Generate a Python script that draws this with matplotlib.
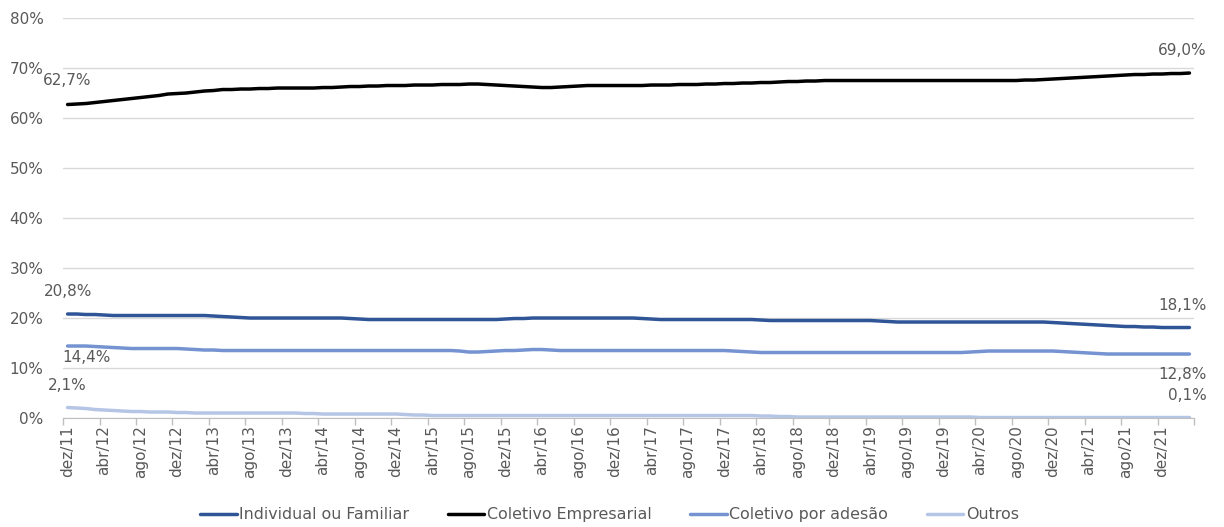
import matplotlib.pyplot as plt
from matplotlib.ticker import FuncFormatter, MultipleLocator, FixedLocator, NullFormatter

# monthly share of beneficiaries by contract type, dez/11 .. mar/22 (%)
ptMonths = ['jan', 'fev', 'mar', 'abr', 'mai', 'jun', 'jul', 'ago', 'set', 'out', 'nov', 'dez']
startYear, startMonth, nMonths = 2011, 12, 124

individual = [
    20.8, 20.8, 20.7, 20.7, 20.6, 20.5, 20.5, 20.5, 20.5, 20.5, 20.5, 20.5,
    20.5, 20.5, 20.5, 20.5, 20.4, 20.3, 20.2, 20.1, 20.0, 20.0, 20.0, 20.0,
    20.0, 20.0, 20.0, 20.0, 20.0, 20.0, 20.0, 19.9, 19.8, 19.7, 19.7, 19.7,
    19.7, 19.7, 19.7, 19.7, 19.7, 19.7, 19.7, 19.7, 19.7, 19.7, 19.7, 19.7,
    19.8, 19.9, 19.9, 20.0, 20.0, 20.0, 20.0, 20.0, 20.0, 20.0, 20.0, 20.0,
    20.0, 20.0, 20.0, 19.9, 19.8, 19.7, 19.7, 19.7, 19.7, 19.7, 19.7, 19.7,
    19.7, 19.7, 19.7, 19.7, 19.6, 19.5, 19.5, 19.5, 19.5, 19.5, 19.5, 19.5,
    19.5, 19.5, 19.5, 19.5, 19.5, 19.4, 19.3, 19.2, 19.2, 19.2, 19.2, 19.2,
    19.2, 19.2, 19.2, 19.2, 19.2, 19.2, 19.2, 19.2, 19.2, 19.2, 19.2, 19.2,
    19.1, 19.0, 18.9, 18.8, 18.7, 18.6, 18.5, 18.4, 18.3, 18.3, 18.2, 18.2,
    18.1, 18.1, 18.1, 18.1,
]
empresarial = [
    62.7, 62.8, 62.9, 63.1, 63.3, 63.5, 63.7, 63.9, 64.1, 64.3, 64.5, 64.8,
    64.9, 65.0, 65.2, 65.4, 65.5, 65.7, 65.7, 65.8, 65.8, 65.9, 65.9, 66.0,
    66.0, 66.0, 66.0, 66.0, 66.1, 66.1, 66.2, 66.3, 66.3, 66.4, 66.4, 66.5,
    66.5, 66.5, 66.6, 66.6, 66.6, 66.7, 66.7, 66.7, 66.8, 66.8, 66.7, 66.6,
    66.5, 66.4, 66.3, 66.2, 66.1, 66.1, 66.2, 66.3, 66.4, 66.5, 66.5, 66.5,
    66.5, 66.5, 66.5, 66.5, 66.6, 66.6, 66.6, 66.7, 66.7, 66.7, 66.8, 66.8,
    66.9, 66.9, 67.0, 67.0, 67.1, 67.1, 67.2, 67.3, 67.3, 67.4, 67.4, 67.5,
    67.5, 67.5, 67.5, 67.5, 67.5, 67.5, 67.5, 67.5, 67.5, 67.5, 67.5, 67.5,
    67.5, 67.5, 67.5, 67.5, 67.5, 67.5, 67.5, 67.5, 67.5, 67.6, 67.6, 67.7,
    67.8, 67.9, 68.0, 68.1, 68.2, 68.3, 68.4, 68.5, 68.6, 68.7, 68.7, 68.8,
    68.8, 68.9, 68.9, 69.0,
]
adesao = [
    14.4, 14.4, 14.4, 14.3, 14.2, 14.1, 14.0, 13.9, 13.9, 13.9, 13.9, 13.9,
    13.9, 13.8, 13.7, 13.6, 13.6, 13.5, 13.5, 13.5, 13.5, 13.5, 13.5, 13.5,
    13.5, 13.5, 13.5, 13.5, 13.5, 13.5, 13.5, 13.5, 13.5, 13.5, 13.5, 13.5,
    13.5, 13.5, 13.5, 13.5, 13.5, 13.5, 13.5, 13.4, 13.2, 13.2, 13.3, 13.4,
    13.5, 13.5, 13.6, 13.7, 13.7, 13.6, 13.5, 13.5, 13.5, 13.5, 13.5, 13.5,
    13.5, 13.5, 13.5, 13.5, 13.5, 13.5, 13.5, 13.5, 13.5, 13.5, 13.5, 13.5,
    13.5, 13.4, 13.3, 13.2, 13.1, 13.1, 13.1, 13.1, 13.1, 13.1, 13.1, 13.1,
    13.1, 13.1, 13.1, 13.1, 13.1, 13.1, 13.1, 13.1, 13.1, 13.1, 13.1, 13.1,
    13.1, 13.1, 13.1, 13.2, 13.3, 13.4, 13.4, 13.4, 13.4, 13.4, 13.4, 13.4,
    13.4, 13.3, 13.2, 13.1, 13.0, 12.9, 12.8, 12.8, 12.8, 12.8, 12.8, 12.8,
    12.8, 12.8, 12.8, 12.8,
]
outros = [
    2.1, 2.0, 1.9, 1.7, 1.6, 1.5, 1.4, 1.3, 1.3, 1.2, 1.2, 1.2,
    1.1, 1.1, 1.0, 1.0, 1.0, 1.0, 1.0, 1.0, 1.0, 1.0, 1.0, 1.0,
    1.0, 1.0, 0.9, 0.9, 0.8, 0.8, 0.8, 0.8, 0.8, 0.8, 0.8, 0.8,
    0.8, 0.7, 0.6, 0.6, 0.5, 0.5, 0.5, 0.5, 0.5, 0.5, 0.5, 0.5,
    0.5, 0.5, 0.5, 0.5, 0.5, 0.5, 0.5, 0.5, 0.5, 0.5, 0.5, 0.5,
    0.5, 0.5, 0.5, 0.5, 0.5, 0.5, 0.5, 0.5, 0.5, 0.5, 0.5, 0.5,
    0.5, 0.5, 0.5, 0.5, 0.4, 0.4, 0.3, 0.3, 0.2, 0.2, 0.2, 0.2,
    0.2, 0.2, 0.2, 0.2, 0.2, 0.2, 0.2, 0.2, 0.2, 0.2, 0.2, 0.2,
    0.2, 0.2, 0.2, 0.2, 0.1, 0.1, 0.1, 0.1, 0.1, 0.1, 0.1, 0.1,
    0.1, 0.1, 0.1, 0.1, 0.1, 0.1, 0.1, 0.1, 0.1, 0.1, 0.1, 0.1,
    0.1, 0.1, 0.1, 0.1,
]

seriesNames = ['Individual ou Familiar', 'Coletivo Empresarial', 'Coletivo por adesão', 'Outros']
seriesData = [individual, empresarial, adesao, outros]
seriesColors = ['#2f5597', '#000000', '#7593d1', '#b4c5e6']

# (dx, dy) offsets in points for first (centred) / last (right-aligned) value labels
firstOffsets = [(0, 16), (0, 17), (13.5, -8.5), (0, 16)]
lastOffsets = [(12.5, 16), (12.5, 16), (12.5, -15), (12.5, 16)]


def monthLabels():
    labels = []
    y, m = startYear, startMonth
    for _ in range(nMonths):
        labels.append(f'{ptMonths[m - 1]}/{str(y)[2:]}')
        m += 1
        if m > 12:
            m, y = 1, y + 1
    return labels


def pct(v):
    return f'{v:.1f}'.replace('.', ',') + '%'


labels = monthLabels()
xs = list(range(nMonths))

fig = plt.figure(figsize=(12.24, 5.27), dpi=100)
ax = fig.add_axes([0.0515, 0.2068, 0.9240, 0.759])

for name, vals, col in zip(seriesNames, seriesData, seriesColors):
    ax.plot(xs, vals, color=col, lw=2.5, label=name, solid_capstyle='round', zorder=3)

txtColor = '#595959'
for vals, f, l in zip(seriesData, firstOffsets, lastOffsets):
    ax.annotate(pct(vals[0]), (xs[0], vals[0]), xytext=f, textcoords='offset points',
                ha='center', va='center', fontsize=11, color=txtColor)
    ax.annotate(pct(vals[-1]), (xs[-1], vals[-1]), xytext=l, textcoords='offset points',
                ha='right', va='center', fontsize=11, color=txtColor)

ax.set_xlim(-0.5, nMonths - 0.5)
ax.set_ylim(0, 80)
ax.yaxis.set_major_locator(MultipleLocator(10))
ax.yaxis.set_major_formatter(FuncFormatter(lambda v, _: f'{v:.0f}%'))
ax.grid(axis='y', color='#d9d9d9', lw=1)
ax.set_axisbelow(True)

# labels every 4 months, tick marks on category boundaries
ax.xaxis.set_major_locator(FixedLocator([i - 0.5 for i in range(0, nMonths, 4)] + [nMonths - 0.5]))
ax.xaxis.set_major_formatter(NullFormatter())
ax.xaxis.set_minor_locator(FixedLocator(list(range(0, nMonths, 4))))
ax.set_xticklabels([labels[i] for i in range(0, nMonths, 4)], minor=True, rotation=90)
ax.tick_params(axis='x', which='major', length=5, color='#bfbfbf', width=1)
ax.tick_params(axis='x', which='minor', length=0, pad=5, labelsize=11, labelcolor=txtColor)
ax.tick_params(axis='y', length=0, pad=14, labelsize=11, labelcolor=txtColor)

for s in ['top', 'right', 'left']:
    ax.spines[s].set_visible(False)
ax.spines['bottom'].set_color('#bfbfbf')

fig.legend(loc='center', bbox_to_anchor=(0.498, 0.023), ncol=4, frameon=False,
           fontsize=11.4, handlelength=2.3, handletextpad=0.15, columnspacing=2.45,
           labelcolor=txtColor)

fig.savefig('out.png', dpi=100)
